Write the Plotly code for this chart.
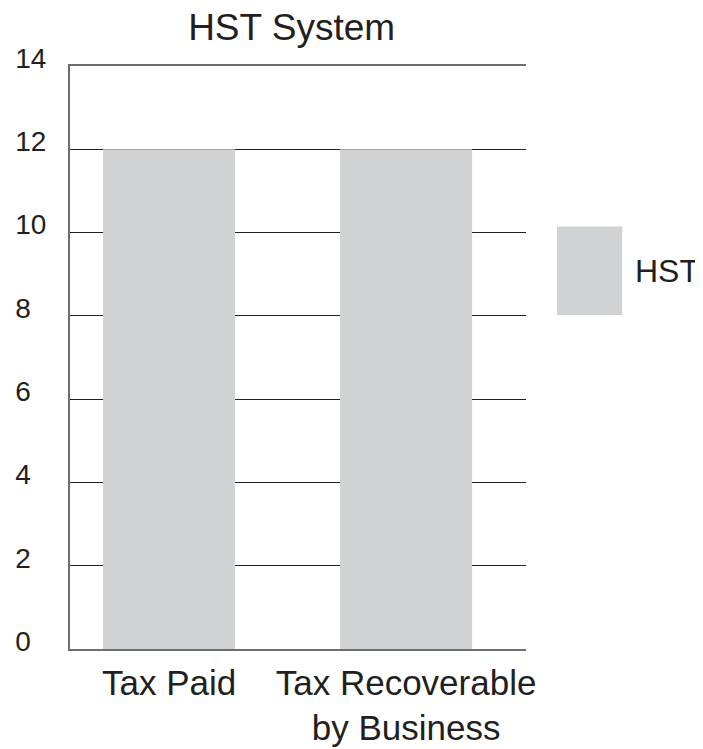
import plotly.graph_objects as go

categories = ["Tax Paid", "Tax Recoverable<br>by Business"]
hst_values = [12, 12]
series_name = "HST"
y_tick_vals = [0, 2, 4, 6, 8, 10, 12, 14]
y_grid_vals = [2, 4, 6, 8, 10, 12]
y_tick_text = ["0\u2007", "2\u2007", "4\u2007", "6\u2007", "8\u2007", "10", "12", "14"]
y_max = 14

FONT = "Liberation Sans, Arial, sans-serif"
TEXT = "#231f20"
BAR = "#d1d2d4"
AXIS = "#6d6e71"

W, H = 695, 741          # page body adds an 8px offset
PLOT_H = 591             # 583px axis + 8px room for label axis shift
SHIFT = 8 / PLOT_H
Y_RANGE = [0, y_max]

fig = go.Figure()
fig.add_trace(go.Bar(
    x=categories, y=hst_values, name=series_name,
    marker=dict(color=BAR, line=dict(width=0)),
    width=0.557, showlegend=False,
))
# invisible helper trace so the label axis is drawn
fig.add_trace(go.Scatter(x=categories, y=hst_values, yaxis="y2",
                         mode="markers", marker=dict(opacity=0),
                         showlegend=False, hoverinfo="skip"))

fig.update_layout(
    width=W, height=H,
    margin=dict(l=62, r=177, t=H - 100 - PLOT_H, b=100, autoexpand=False),
    paper_bgcolor="white", plot_bgcolor="rgba(0,0,0,0)",
    font=dict(family=FONT, color=TEXT),
    title=dict(text="HST System", x=0.486, xref="paper", xanchor="center",
               y=1 - 19 / H, yref="container", yanchor="middle",
               font=dict(size=37, family=FONT, color=TEXT)),
    xaxis=dict(
        type="category", range=[-0.418, 1.506], automargin=False,
        showline=True, mirror=True, linecolor=AXIS, linewidth=1.5,
        showgrid=False, ticks="outside", ticklen=2, tickcolor="rgba(0,0,0,0)",
        tickfont=dict(size=35, family=FONT, color=TEXT),
    ),
    yaxis=dict(
        domain=[0, 1 - SHIFT],
        range=Y_RANGE, tickmode="array", tickvals=y_grid_vals,
        showticklabels=False, automargin=False,
        showline=True, mirror=False, linecolor=AXIS, linewidth=1.5,
        showgrid=True, gridcolor="#231f20", gridwidth=1, zeroline=False,
    ),
    yaxis2=dict(
        domain=[SHIFT, 1], anchor="free", position=0, side="left",
        range=Y_RANGE, tickvals=y_tick_vals, ticktext=y_tick_text,
        showgrid=False, zeroline=False, showline=False,
        ticks="outside", ticklen=18, tickcolor="rgba(0,0,0,0)",
        tickfont=dict(size=28, family=FONT, color=TEXT), automargin=False,
    ),
)

# legend swatch and label
fig.add_shape(type="rect", xref="paper", yref="paper",
              x0=1.068, x1=1.211, y0=0.573 * (1 - SHIFT), y1=0.7246 * (1 - SHIFT),
              fillcolor=BAR, line=dict(width=0))
fig.add_annotation(text=series_name, xref="paper", yref="paper",
                   x=1.235, y=0.649 * (1 - SHIFT), xanchor="left", yanchor="middle",
                   showarrow=False, font=dict(size=32, family=FONT, color=TEXT))

fig.write_html("out.html")
